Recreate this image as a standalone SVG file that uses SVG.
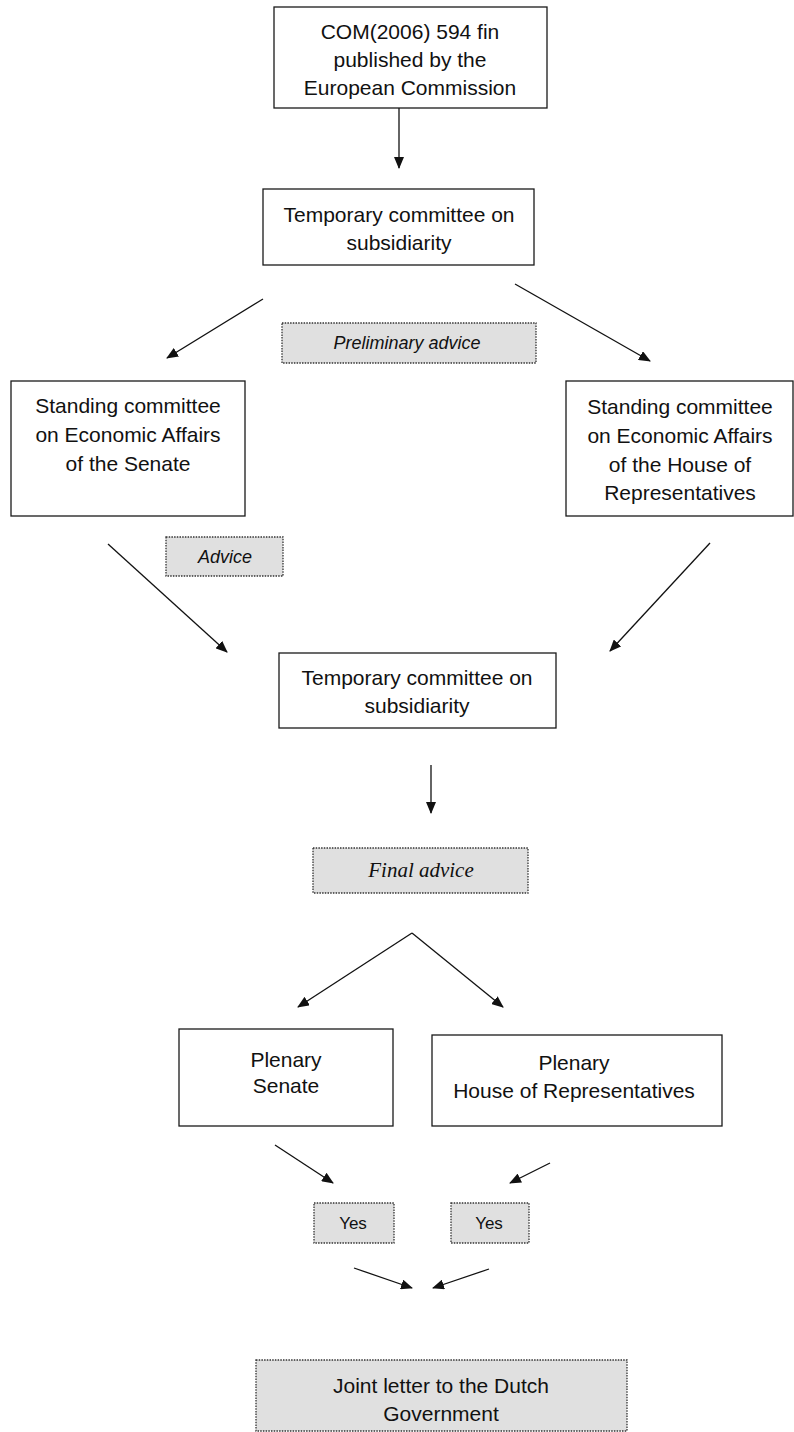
<svg xmlns="http://www.w3.org/2000/svg" width="794" height="1432" viewBox="0 0 794 1432">
<style>
.box{fill:#fff;stroke:#1a1a1a;stroke-width:1.3}
.lbl{fill:#e0e0e0;stroke:#333;stroke-width:1.3;stroke-dasharray:1.5 1.2}
.t{font-family:"Liberation Sans",Arial,sans-serif;font-size:21px;fill:#111;text-anchor:middle}
.i{font-family:"Liberation Sans",Arial,sans-serif;font-size:18px;font-style:italic;fill:#111;text-anchor:middle}
.s{font-family:"Liberation Sans",Arial,sans-serif;font-size:17px;fill:#111;text-anchor:middle}
.f{font-family:"Liberation Serif","Times New Roman",serif;font-size:21px;font-style:italic;fill:#111;text-anchor:middle}
.c{stroke:#111;stroke-width:1.3;fill:none;marker-end:url(#ah)}
</style>
<defs>
<marker id="ah" markerUnits="userSpaceOnUse" markerWidth="12" markerHeight="10" viewBox="0 0 12 10" refX="11" refY="5" orient="auto">
<path d="M0,0 L12,5 L0,10 z" fill="#111"/>
</marker>
</defs>
<g id="connectors">
<line class="c" x1="399" y1="108" x2="399" y2="168"/>
<line class="c" x1="263" y1="299" x2="167" y2="358"/>
<line class="c" x1="515" y1="284" x2="650" y2="361"/>
<line class="c" x1="108" y1="544" x2="227" y2="652"/>
<line class="c" x1="710" y1="543" x2="610" y2="651"/>
<line class="c" x1="431" y1="765" x2="431" y2="813"/>
<line class="c" x1="412" y1="933" x2="298" y2="1007"/>
<line class="c" x1="412" y1="933" x2="503" y2="1007"/>
<line class="c" x1="275" y1="1145" x2="333" y2="1183"/>
<line class="c" x1="550" y1="1163" x2="510" y2="1183"/>
<line class="c" x1="354" y1="1268" x2="412" y2="1288"/>
<line class="c" x1="489" y1="1269" x2="433" y2="1288"/>
</g>
<g id="n-com">
<rect class="box" x="274" y="7" width="273" height="101"/>
<text class="t" x="410" y="39">COM(2006) 594 fin</text>
<text class="t" x="410" y="67">published by the</text>
<text class="t" x="410" y="95">European Commission</text>
</g>
<g id="n-temp1">
<rect class="box" x="263" y="189" width="271" height="76"/>
<text class="t" x="399" y="222">Temporary committee on</text>
<text class="t" x="399" y="250">subsidiarity</text>
</g>
<g id="l-prelim">
<rect class="lbl" x="282" y="323" width="254" height="40"/>
<text class="i" x="407" y="349">Preliminary advice</text>
</g>
<g id="n-senate-ec">
<rect class="box" x="11" y="381" width="234" height="135"/>
<text class="t" x="128" y="413">Standing committee</text>
<text class="t" x="128" y="442">on Economic Affairs</text>
<text class="t" x="128" y="471">of the Senate</text>
</g>
<g id="n-house-ec">
<rect class="box" x="566" y="381" width="227" height="135"/>
<text class="t" x="680" y="414">Standing committee</text>
<text class="t" x="680" y="443">on Economic Affairs</text>
<text class="t" x="680" y="472">of the House of</text>
<text class="t" x="680" y="500">Representatives</text>
</g>
<g id="l-advice">
<rect class="lbl" x="166" y="537" width="117" height="39"/>
<text class="i" x="225" y="563">Advice</text>
</g>
<g id="n-temp2">
<rect class="box" x="279" y="653" width="277" height="75"/>
<text class="t" x="417" y="685">Temporary committee on</text>
<text class="t" x="417" y="713">subsidiarity</text>
</g>
<g id="l-final">
<rect class="lbl" x="313" y="848" width="215" height="45"/>
<text class="f" x="421" y="877">Final advice</text>
</g>
<g id="n-plen-senate">
<rect class="box" x="179" y="1029" width="214" height="97"/>
<text class="t" x="286" y="1067">Plenary</text>
<text class="t" x="286" y="1093">Senate</text>
</g>
<g id="n-plen-house">
<rect class="box" x="432" y="1035" width="290" height="91"/>
<text class="t" x="574" y="1070">Plenary</text>
<text class="t" x="574" y="1098">House of Representatives</text>
</g>
<g id="l-yes1">
<rect class="lbl" x="314" y="1203" width="80" height="40"/>
<text class="s" x="353" y="1229">Yes</text>
</g>
<g id="l-yes2">
<rect class="lbl" x="451" y="1203" width="78" height="40"/>
<text class="s" x="489" y="1229">Yes</text>
</g>
<g id="n-letter">
<rect class="lbl" x="256" y="1360" width="371" height="71"/>
<text class="t" x="441" y="1393">Joint letter to the Dutch</text>
<text class="t" x="441" y="1421">Government</text>
</g>
</svg>
